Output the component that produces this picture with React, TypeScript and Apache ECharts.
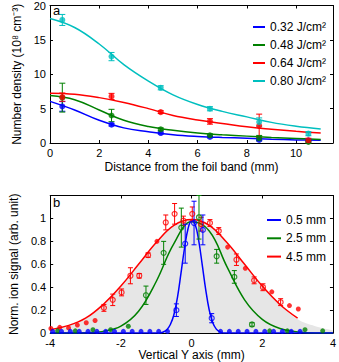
import React, { useEffect, useRef } from 'react';
import * as echarts from 'echarts';

const FONT = '"Liberation Sans", Arial, Helvetica, sans-serif';

// ---- Panel a: number density vs distance ----
const topNames = ['0.32 J/cm²', '0.48 J/cm²', '0.64 J/cm²', '0.80 J/cm²'];
const topColors = ['#0000ff', '#008000', '#ff0000', '#00bfbf'];
const topX = [0.5, 2.5, 4.5, 6.5, 8.5, 10.5];
const topBlue = [5.32, 2.67, 1.45, 0.87, 0.45, 0.35];
const topBlueErr = [0.7, 0.2, 0.15, 0.12, 0.1, 0.1];
const topGreen = [6.6, 4.0, 1.99, 1.12, 0.7, 0.15];
const topGreenErr = [2.1, 0.9, 0.2, 0.2, 0.4, 0.2];
const topRed = [6.67, 6.77, 4.49, 3.14, 2.5, 0.39];
const topRedErr = [0.6, 0.45, 0.2, 0.4, 1.7, 0.3];
const topCyan = [17.9, 12.57, 8.03, 4.98, 3.05, 1.36];
const topCyanErr = [0.8, 0.6, 0.3, 0.3, 0.6, 0.3];

const fitX = [0, 1, 2, 3, 4, 5, 6, 7, 8, 9, 10, 11];
const fitBlue = [6.05, 4.8, 3.3, 2.2, 1.65, 1.2, 0.95, 0.8, 0.7, 0.55, 0.45, 0.4];
const fitGreen = [6.9, 6.3, 4.8, 3.3, 2.4, 1.85, 1.45, 1.2, 1.0, 0.8, 0.65, 0.5];
const fitRed = [7.25, 7.1, 6.6, 5.9, 5.0, 4.0, 3.35, 2.85, 2.35, 2.0, 1.7, 1.45];
const fitCyan = [18.1, 16.8, 14.4, 11.4, 9.0, 7.0, 5.6, 4.6, 3.8, 3.0, 2.45, 2.05];

// ---- Panel b: normalized ion signal vs vertical Y ----
const botNames = ['0.5 mm', '2.5 mm', '4.5 mm'];
const botColors = ['#0000ff', '#008000', '#ff0000'];

const blueX = [-3.93, -3.68, -3.43, -3.18, -2.93, -2.68, -2.43, -2.18, -1.93, -1.68, -1.43, -1.18, -0.93, -0.68,
  -0.43, -0.18, 0.07, 0.32, 0.57, 0.82, 1.07, 1.32, 1.57, 1.82, 2.07, 2.32, 2.57, 2.82, 3.07];
const blueY = [0.015, 0.015, 0.015, 0.015, 0.015, 0.015, 0.015, 0.015, 0.015, 0.015, 0.015, 0.015, 0.015, 0.015,
  0.2, 0.78, 0.96, 0.9, 0.13, 0.015, 0.015, 0.015, 0.015, 0.015, 0.015, 0.015, 0.015, 0.015, 0.015];
const blueErr = [0, 0, 0, 0, 0, 0, 0, 0, 0, 0, 0, 0, 0, 0,
  0.055, 0.17, 0.19, 0.13, 0.04, 0, 0, 0, 0, 0, 0, 0, 0, 0, 0];

const greenX = [-3.79, -3.29, -2.79, -2.29, -1.79, -1.29, -0.79, -0.29, 0.21, 0.71, 1.21, 1.71, 2.21, 2.71, 3.21, 3.71];
const greenY = [0.02, 0.02, 0.03, 0.03, 0.06, 0.33, 0.7, 0.92, 1.01, 0.67, 0.49, 0.075, 0.02, 0.02, 0.03, 0.02];
const greenErr = [0, 0, 0, 0, 0, 0.08, 0.1, 0.17, 0.19, 0.06, 0.055, 0.015, 0, 0, 0, 0];

const redX = [-3.98, -3.73, -3.48, -3.23, -2.98, -2.73, -2.48, -2.23, -1.98, -1.73, -1.48, -1.23, -0.98, -0.73,
  -0.48, -0.23, 0.02, 0.27, 0.52, 0.77, 1.02, 1.27, 1.52, 1.77, 2.02, 2.27, 2.52, 2.77, 3.02];
const redY = [0.04, 0.05, 0.045, 0.07, 0.09, 0.11, 0.22, 0.29, 0.355, 0.5, 0.5, 0.68, 0.8, 0.965,
  1.04, 0.98, 1.04, 0.95, 0.96, 0.89, 0.75, 0.64, 0.565, 0.46, 0.4, 0.36, 0.27, 0.24, 0.21];
const redErr = [0, 0, 0, 0, 0, 0, 0.03, 0.05, 0.03, 0.07, 0.02, 0.02, 0, 0.065,
  0.09, 0.04, 0.06, 0.06, 0.03, 0.03, 0, 0.05, 0, 0.03, 0.03, 0, 0.03, 0, 0];

const blueFitX = [-4, -1, -0.9, -0.8, -0.7, -0.6, -0.5, -0.4, -0.3, -0.2, -0.1, 0, 0.1, 0.2, 0.3, 0.4, 0.5, 0.6, 0.7, 0.8, 0.9, 1, 4];
const blueFit = [0, 0, 0, 0.01, 0.03, 0.075, 0.16, 0.31, 0.52, 0.74, 0.91, 0.98, 0.95, 0.81, 0.6, 0.38, 0.2, 0.09, 0.035, 0.01, 0, 0, 0];
const greenFitX = [-4, -3.5, -3, -2.5, -2, -1.5, -1, -0.5, 0, 0.5, 1, 1.5, 2, 2.5, 3, 3.5, 4];
const greenFit = [0, 0, 0.003, 0.015, 0.06, 0.19, 0.45, 0.78, 0.97, 0.89, 0.58, 0.29, 0.12, 0.04, 0.01, 0, 0];
const redFitX = [-4, -3.5, -3, -2.5, -2, -1.5, -1, -0.5, 0, 0.5, 1, 1.5, 2, 2.5, 3];
const redFit = [0.03, 0.065, 0.13, 0.25, 0.41, 0.6, 0.79, 0.94, 0.99, 0.94, 0.79, 0.6, 0.41, 0.25, 0.13];
const shadeX = [-4, -3.5, -3, -2.5, -2, -1.5, -1, -0.5, 0, 0.5, 1, 1.5, 2, 2.5, 3, 3.5, 4];
const shadeY = [0.03, 0.065, 0.13, 0.25, 0.41, 0.6, 0.79, 0.94, 0.99, 0.94, 0.79, 0.6, 0.41, 0.25, 0.12, 0.06, 0.025];

const pairs = (xs: number[], ys: number[]) => xs.map((x, i) => [x, ys[i]]);

function errorSeries(xs: number[], ys: number[], es: number[], color: string, xi: number, yi: number, cap: number) {
  return {
    type: 'custom',
    xAxisIndex: xi,
    yAxisIndex: yi,
    z: 4,
    silent: true,
    data: xs.map((x, i) => [x, ys[i], es[i]]),
    renderItem: (_p: any, api: any) => {
      const x = api.value(0);
      const y = api.value(1);
      const e = api.value(2);
      if (!e) return null;
      const t = api.coord([x, y + e]);
      const b = api.coord([x, y - e]);
      const style = { stroke: color, lineWidth: 1, fill: null };
      return {
        type: 'group',
        children: [
          { type: 'line', shape: { x1: t[0], y1: t[1], x2: b[0], y2: b[1] }, style },
          { type: 'line', shape: { x1: t[0] - cap, y1: t[1], x2: t[0] + cap, y2: t[1] }, style },
          { type: 'line', shape: { x1: b[0] - cap, y1: b[1], x2: b[0] + cap, y2: b[1] }, style },
        ],
      };
    },
  };
}

function fitSeries(name: string, xs: number[], ys: number[], color: string, xi: number, yi: number) {
  return {
    type: 'line',
    name,
    xAxisIndex: xi,
    yAxisIndex: yi,
    data: pairs(xs, ys),
    smooth: 0.4,
    symbol: 'none',
    color,
    lineStyle: { color, width: 1.5 },
    z: 3,
    silent: true,
  };
}

function pointSeries(xs: number[], ys: number[], es: number[], color: string, xi: number, yi: number, size: number, hollow: boolean) {
  return {
    type: 'scatter',
    xAxisIndex: xi,
    yAxisIndex: yi,
    symbolSize: size,
    z: 5,
    silent: true,
    data: xs.map((x, i) => {
      const open = hollow && es[i] > 0;
      return {
        value: [x, ys[i]],
        symbol: 'circle',
        itemStyle: open
          ? { color: 'rgba(0,0,0,0)', borderColor: color, borderWidth: 1.2 }
          : { color, borderWidth: 0 },
      };
    }),
  };
}

const axisLine = { show: true, onZero: false, lineStyle: { color: '#000', width: 1 } };
const tick = { show: true, inside: true, length: 3, lineStyle: { color: '#000', width: 1 } };
const label = { color: '#000', fontSize: 11, fontFamily: FONT };

export default function App() {
  const ref = useRef<HTMLDivElement>(null);
  useEffect(() => {
    if (!ref.current) return;
    const chart = echarts.init(ref.current, null, { renderer: 'svg' });
    const option: any = {
      animation: false,
      backgroundColor: '#fff',
      textStyle: { fontFamily: FONT },
      grid: [
        { left: 50, top: 5, width: 283, height: 138 },
        { left: 50, top: 195.5, width: 283, height: 140 },
      ],
      xAxis: [
        {
          gridIndex: 0, type: 'value', min: 0, max: 11.5, interval: 2, position: 'bottom',
          axisLine, axisTick: tick, splitLine: { show: false },
          axisLabel: { ...label, margin: 4, formatter: (v: number) => (Math.abs(v % 2) < 1e-9 ? String(v) : '') },
          name: 'Distance from the foil band (mm)', nameLocation: 'middle', nameGap: 18,
          nameTextStyle: { color: '#000', fontSize: 12, fontFamily: FONT },
        },
        {
          gridIndex: 0, type: 'value', min: 0, max: 11.5, interval: 2, position: 'top',
          axisLine, axisTick: tick, axisLabel: { show: false }, splitLine: { show: false },
        },
        {
          gridIndex: 1, type: 'value', min: -4, max: 4, interval: 2, position: 'bottom',
          axisLine, axisTick: tick, splitLine: { show: false },
          axisLabel: { ...label, margin: 4 },
          name: 'Vertical Y axis (mm)', nameLocation: 'middle', nameGap: 14,
          nameTextStyle: { color: '#000', fontSize: 12, fontFamily: FONT },
        },
        {
          gridIndex: 1, type: 'value', min: -4, max: 4, interval: 2, position: 'top',
          axisLine, axisTick: tick, axisLabel: { show: false }, splitLine: { show: false },
        },
      ],
      yAxis: [
        {
          gridIndex: 0, type: 'value', min: 0, max: 20, interval: 5, position: 'left',
          axisLine, axisTick: tick, splitLine: { show: false },
          axisLabel: { ...label, margin: 4 },
          name: 'Number density (10⁸ cm⁻³)', nameLocation: 'middle', nameGap: 26,
          nameTextStyle: { color: '#000', fontSize: 12, fontFamily: FONT },
        },
        {
          gridIndex: 0, type: 'value', min: 0, max: 20, interval: 5, position: 'right',
          axisLine, axisTick: tick, axisLabel: { show: false }, splitLine: { show: false },
        },
        {
          gridIndex: 1, type: 'value', min: 0, max: 1.2, interval: 0.2, position: 'left',
          axisLine, axisTick: tick, splitLine: { show: false },
          axisLabel: { ...label, margin: 4, formatter: (v: number) => (v > 1.05 ? '' : String(Math.round(v * 10) / 10)) },
          name: 'Norm. ion signal (arb. unit)', nameLocation: 'middle', nameGap: 26,
          nameTextStyle: { color: '#000', fontSize: 12, fontFamily: FONT },
        },
        {
          gridIndex: 1, type: 'value', min: 0, max: 1.2, interval: 0.2, position: 'right',
          axisLine, axisTick: tick, axisLabel: { show: false }, splitLine: { show: false },
        },
      ],
      legend: [
        {
          data: topNames, left: 248, top: 15, orient: 'vertical', icon: 'rect',
          itemWidth: 12, itemHeight: 2, itemGap: 4, selectedMode: false,
          textStyle: { color: '#000', fontSize: 12, fontFamily: FONT, lineHeight: 14 },
        },
        {
          data: botNames, left: 262, top: 208, orient: 'vertical', icon: 'rect',
          itemWidth: 14, itemHeight: 2, itemGap: 4.3, selectedMode: false,
          textStyle: { color: '#000', fontSize: 12, fontFamily: FONT, lineHeight: 14 },
        },
      ],
      graphic: [
        { type: 'text', left: 53, top: 4, style: { text: 'a', fontSize: 13, fill: '#000', fontFamily: FONT } },
        { type: 'text', left: 53, top: 196, style: { text: 'b', fontSize: 13, fill: '#000', fontFamily: FONT } },
      ],
      series: [
        // panel a
        fitSeries(topNames[0], fitX, fitBlue, topColors[0], 0, 0),
        fitSeries(topNames[1], fitX, fitGreen, topColors[1], 0, 0),
        fitSeries(topNames[2], fitX, fitRed, topColors[2], 0, 0),
        fitSeries(topNames[3], fitX, fitCyan, topColors[3], 0, 0),
        errorSeries(topX, topBlue, topBlueErr, topColors[0], 0, 0, 3),
        errorSeries(topX, topGreen, topGreenErr, topColors[1], 0, 0, 3),
        errorSeries(topX, topRed, topRedErr, topColors[2], 0, 0, 3),
        errorSeries(topX, topCyan, topCyanErr, topColors[3], 0, 0, 3),
        pointSeries(topX, topBlue, topBlueErr, topColors[0], 0, 0, 6, false),
        pointSeries(topX, topGreen, topGreenErr, topColors[1], 0, 0, 6, false),
        pointSeries(topX, topRed, topRedErr, topColors[2], 0, 0, 6, false),
        pointSeries(topX, topCyan, topCyanErr, topColors[3], 0, 0, 6, false),
        // panel b
        {
          type: 'line', xAxisIndex: 2, yAxisIndex: 2, data: pairs(shadeX, shadeY), smooth: 0.4,
          symbol: 'none', lineStyle: { width: 0, color: '#e6e6e6' }, areaStyle: { color: '#e6e6e6', opacity: 1 },
          z: 1, silent: true,
        },
        fitSeries(botNames[2], redFitX, redFit, botColors[2], 2, 2),
        fitSeries(botNames[1], greenFitX, greenFit, botColors[1], 2, 2),
        fitSeries(botNames[0], blueFitX, blueFit, botColors[0], 2, 2),
        errorSeries(redX, redY, redErr, botColors[2], 2, 2, 2.5),
        errorSeries(greenX, greenY, greenErr, botColors[1], 2, 2, 2.5),
        errorSeries(blueX, blueY, blueErr, botColors[0], 2, 2, 2.5),
        pointSeries(redX, redY, redErr, botColors[2], 2, 2, 5, true),
        pointSeries(greenX, greenY, greenErr, botColors[1], 2, 2, 5, true),
        pointSeries(blueX, blueY, blueErr, botColors[0], 2, 2, 5, true),
      ],
    };
    chart.setOption(option);
    return () => chart.dispose();
  }, []);
  return (
    <div
      ref={ref}
      style={{ position: 'fixed', left: 0, top: 0, width: 339, height: 362, background: '#fff' }}
    />
  );
}
